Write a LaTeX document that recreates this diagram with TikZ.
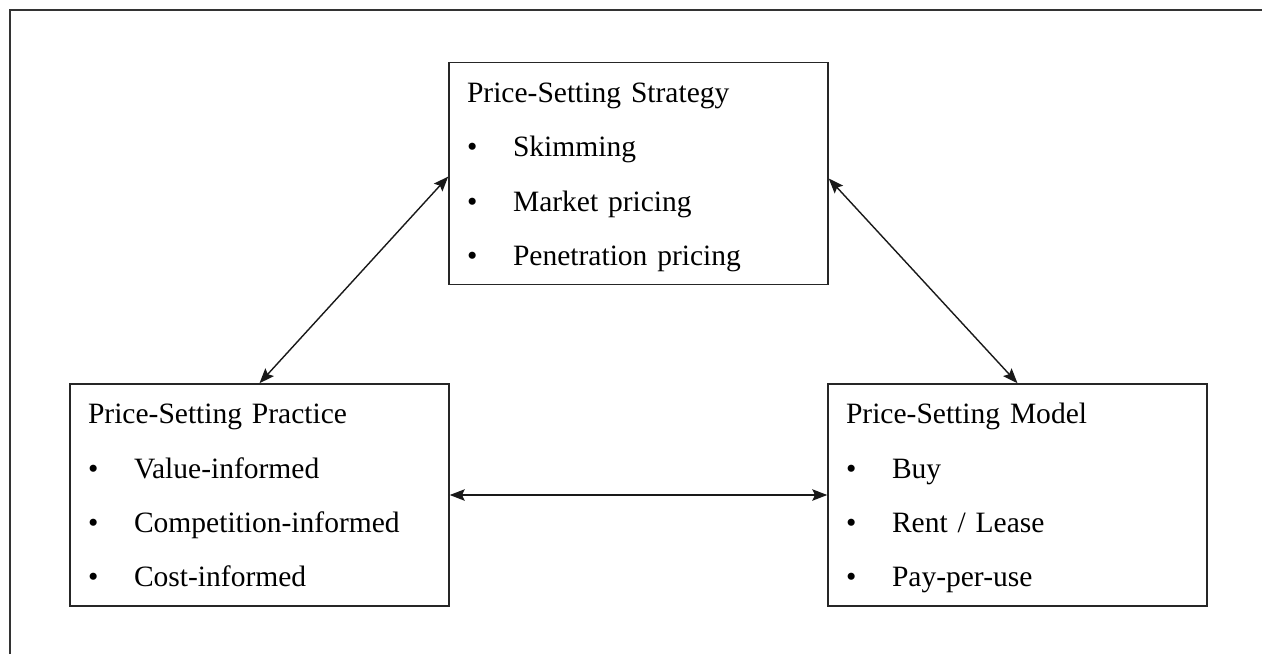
\documentclass[tikz,border=0pt]{standalone}
\usepackage{fontspec}
\setmainfont{Liberation Serif}
\usetikzlibrary{arrows.meta, positioning}

\newcommand{\bitem}[1]{\makebox[0.92cm][l]{\textbullet}#1}
\newcommand{\headstrut}{\rule{0pt}{15.5pt}}
\newcommand{\footstrut}{\rule[-3.7pt]{0pt}{3.7pt}}

\begin{document}
\begin{tikzpicture}[
    x=0.02cm, y=-0.02cm,
    >={Stealth[length=8.5pt, width=6.5pt, inset=1.5pt]},
    frame/.style={line width=1.1pt, draw=black!80},
    box/.style={draw=black!85, line width=0.9pt, minimum width=7.58cm, minimum height=4.44cm,
        text width=6.86cm, inner xsep=0.36cm, align=left,
        font=\fontsize{16.8pt}{30.9pt}\selectfont},
    link/.style={<->, line width=0.8pt, black!90}
]

\useasboundingbox (0,0) rectangle (1262,654);

% Outer frame (only top and left edges show)
\draw[frame] (10,654) -- (10,10) -- (1262,10);

% Boxes
\node[box] (strategy) at (638.5,173.5) {\headstrut Price-Setting Strategy\\
    \bitem{Skimming}\\
    \bitem{Market pricing}\\
    \bitem{Penetration pricing}\footstrut};
\node[box] (practice) at (259.5,495) {\headstrut Price-Setting Practice\\
    \bitem{Value-informed}\\
    \bitem{Competition-informed}\\
    \bitem{Cost-informed}\footstrut};
\node[box] (model) at (1017.5,495) {\headstrut Price-Setting Model\\
    \bitem{Buy}\\
    \bitem{Rent / Lease}\\
    \bitem{Pay-per-use}\footstrut};

% Links between boxes
\draw[link] (practice.north) -- ([yshift=-0.06cm]strategy.west);
\draw[link] (model.north) -- ([yshift=-0.1cm]strategy.east);
\draw[link] (practice.east) -- (model.west);

\end{tikzpicture}
\end{document}
